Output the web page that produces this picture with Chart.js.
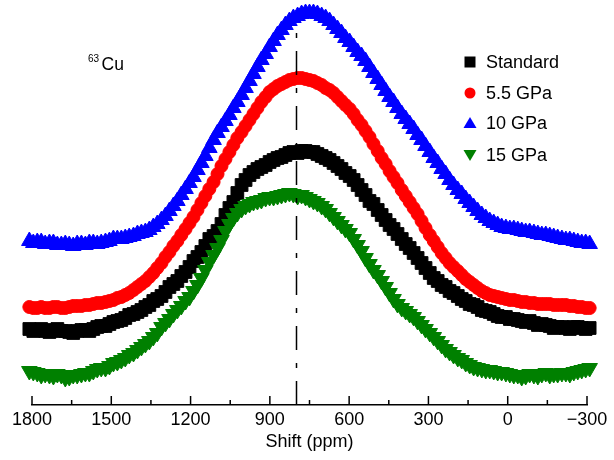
<!DOCTYPE html>
<html><head><meta charset="utf-8">
<script src="https://cdn.jsdelivr.net/npm/chart.js@4"></script>
<style>html,body{margin:0;padding:0;background:#fff}#wrap{width:614px;height:460px;position:relative}</style>
</head><body><div id="wrap"><canvas id="c" width="614" height="460"></canvas></div>
<script>
// Chemical shift (ppm), shared by all spectra
const shiftPpm = [1810,1795,1780,1765,1750,1734,1719,1704,1689,1674,1659,1644,1629,1613,1598,1583,1568,1553,1538,1522,1507,1492,1477,1462,1447,1432,1416,1401,1386,1371,1356,1341,1326,1310,1295,1280,1265,1250,1235,1219,1204,1189,1174,1159,1144,1129,1113,1098,1083,1068,1053,1038,1023,1007,992,977,962,947,932,916,901,886,871,856,841,826,811,795,780,765,750,735,720,704,689,674,659,644,629,614,598,583,568,553,538,523,508,492,477,462,447,432,417,401,386,371,356,341,326,311,295,280,265,250,235,220,205,189,174,159,144,129,114,98,83,68,53,38,23,7,-8,-23,-38,-53,-68,-83,-99,-114,-129,-144,-159,-174,-189,-205,-220,-235,-250,-265,-280,-295,-310];
// Intensities (arbitrary units, stacked offsets as in the figure)
const standard = [80,78,79,80,78,77,79,80,78,78,77,76,78,79,79,78,80,82,83,83,85,87,88,89,91,94,95,97,99,102,104,108,110,113,117,122,125,128,133,137,142,148,152,157,163,170,173,178,185,194,201,207,216,224,229,234,237,240,242,244,247,249,251,252,254,256,257,256,258,258,257,257,255,253,251,249,246,243,240,236,233,229,224,219,214,208,205,199,194,189,184,180,175,170,165,161,156,151,146,141,136,131,128,124,122,118,116,113,110,108,105,104,102,99,98,97,95,93,92,92,90,90,89,88,87,88,86,84,85,84,83,81,82,82,81,80,82,82,81,80,81];
const gpa55 = [102,101,101,102,101,101,102,102,101,101,102,103,103,103,104,104,105,106,106,107,108,109,111,112,114,116,119,122,125,128,132,136,141,146,152,157,163,168,174,180,186,192,199,206,213,220,227,235,243,250,257,264,271,277,283,289,295,301,307,312,317,320,323,325,327,329,330,331,331,330,329,328,326,324,321,319,316,312,308,304,300,295,289,284,278,272,265,258,251,245,238,232,226,219,213,207,201,195,188,181,174,168,162,156,151,146,142,138,134,130,127,124,121,118,116,114,113,112,111,110,109,109,108,107,107,106,106,105,105,105,105,104,104,104,104,103,103,102,102,101,101];
const gpa10 = [168,166,167,167,165,166,166,164,164,165,164,163,165,165,164,166,166,165,166,167,168,170,170,170,171,172,173,175,176,177,179,182,185,189,193,198,203,208,214,220,226,232,239,246,253,261,269,276,282,288,294,301,307,314,321,328,335,342,349,355,362,368,374,379,384,388,391,393,395,396,396,396,395,393,391,388,384,380,376,371,367,362,357,353,348,342,336,330,324,318,312,307,301,295,290,285,280,274,269,263,257,251,246,240,235,229,224,219,215,210,206,202,198,194,191,188,186,184,182,181,180,180,179,178,177,177,176,175,174,174,173,172,171,170,169,169,168,167,166,166,165];
const gpa15 = [38,37,36,34,35,34,33,35,34,31,32,34,34,35,36,36,38,40,41,41,43,46,47,49,51,54,56,59,62,65,68,72,76,82,86,90,95,99,103,108,112,118,124,131,139,147,154,161,169,178,185,191,196,200,203,205,207,208,209,211,212,212,213,214,215,216,215,213,214,212,210,208,206,203,200,196,192,188,184,180,176,170,164,158,151,145,139,134,128,122,116,110,105,101,98,95,92,88,84,80,76,72,68,64,60,57,54,51,49,46,44,42,41,40,39,39,38,37,37,36,35,34,34,32,33,35,34,33,35,36,34,35,35,36,36,35,37,38,39,40,41];
const seriesNames = ['Standard','5.5 GPa','10 GPa','15 GPa'];
const tickLabels = [1800,1500,1200,900,600,300,0,-300];
const refShift = 800;

const FONT = "'Liberation Sans', Arial, sans-serif";
const toPts = arr => shiftPpm.map((x,i)=>({x:x, y:arr[i]}));

const overlay = {
  id:'overlay',
  afterDatasetsDraw(chart){
    const {ctx, chartArea, scales:{x}} = chart;
    ctx.save();
    const lx = Math.round(x.getPixelForValue(refShift)) + 0.5;
    ctx.strokeStyle = '#000'; ctx.lineWidth = 1.5;
    ctx.setLineDash([24,13,5,13]);
    ctx.beginPath(); ctx.moveTo(lx, chartArea.bottom); ctx.lineTo(lx, 24); ctx.stroke();
    ctx.setLineDash([]);
    ctx.lineWidth = 1.5;
    for (let v=-300; v<=1800; v+=150){
      const px = x.getPixelForValue(v);
      const len = (v % 300 === 0) ? 9 : 5;
      ctx.beginPath(); ctx.moveTo(px, chartArea.bottom); ctx.lineTo(px, chartArea.bottom - len); ctx.stroke();
    }
    const lgX = 470, txtX = 486, ys = [62,93,123,155];
    const cols = ['#000000','#ff0000','#0000ff','#008000'];
    ctx.font = '18px ' + FONT; ctx.textBaseline = 'middle'; ctx.textAlign = 'left';
    ys.forEach((y,i)=>{
      ctx.fillStyle = cols[i];
      ctx.beginPath();
      if (i===0) ctx.rect(lgX-5.5, y-5.5, 11, 11);
      else if (i===1) ctx.arc(lgX, y, 5.5, 0, Math.PI*2);
      else if (i===2){ ctx.moveTo(lgX, y-6); ctx.lineTo(lgX+6.5, y+5); ctx.lineTo(lgX-6.5, y+5); ctx.closePath(); }
      else { ctx.moveTo(lgX, y+6); ctx.lineTo(lgX+6.5, y-5); ctx.lineTo(lgX-6.5, y-5); ctx.closePath(); }
      ctx.fill();
      ctx.fillStyle = '#000';
      ctx.fillText(seriesNames[i], txtX, y+1);
    });
    ctx.textBaseline = 'alphabetic';
    ctx.font = '10px ' + FONT; ctx.fillText('63', 88, 62);
    ctx.font = '17.5px ' + FONT; ctx.fillText('Cu', 101.5, 69.5);
    ctx.restore();
  }
};

new Chart(document.getElementById('c'), {
  type:'scatter',
  data:{ datasets:[
    {label:seriesNames[0], data:toPts(standard), pointStyle:'rect', pointRadius:9, backgroundColor:'#000000', borderColor:'#000000', borderWidth:1, order:3, clip:false},
    {label:seriesNames[1], data:toPts(gpa55), pointStyle:'circle', pointRadius:6.5, backgroundColor:'#ff0000', borderColor:'#ff0000', borderWidth:1, order:2, clip:false},
    {label:seriesNames[2], data:toPts(gpa10), pointStyle:'triangle', pointRadius:9, backgroundColor:'#0000ff', borderColor:'#0000ff', borderWidth:1, order:1, clip:false},
    {label:seriesNames[3], data:toPts(gpa15), pointStyle:'triangle', pointRotation:180, pointRadius:9, backgroundColor:'#008000', borderColor:'#008000', borderWidth:1, order:0, clip:false}
  ]},
  options:{
    responsive:false, animation:false, devicePixelRatio:1,
    layout:{autoPadding:false, padding:{left:32, right:27, top:0, bottom:0}},
    plugins:{legend:{display:false}, tooltip:{enabled:false}},
    elements:{point:{hoverRadius:0}},
    scales:{
      x:{type:'linear', reverse:true, min:-300, max:1800,
        grid:{display:false, drawTicks:false},
        border:{display:true, color:'#000', width:1.5},
        ticks:{stepSize:150, autoSkip:false, maxRotation:0, padding:4, color:'#000',
          font:{family:FONT, size:18},
          callback:(v)=> tickLabels.includes(v) ? (v<0 ? '\u2212'+Math.abs(v) : String(v)) : ''},
        title:{display:true, text:'Shift (ppm)', color:'#000', font:{family:FONT, size:18}, padding:{top:0, bottom:7}},
        afterFit(s){ s.height = 55; }
      },
      y:{display:false, min:4, max:409}
    }
  },
  plugins:[overlay]
});
</script></body></html>
